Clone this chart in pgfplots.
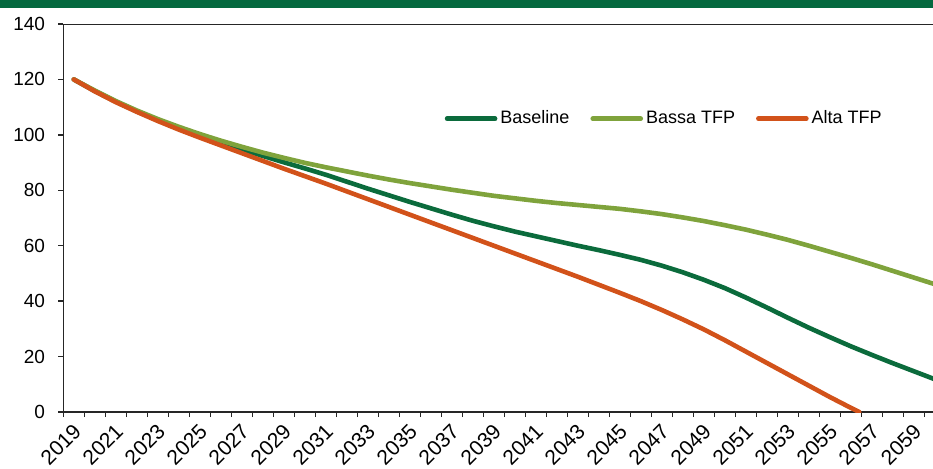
\documentclass[border=0pt]{standalone}
\usepackage{pgfplots}
\pgfplotsset{compat=1.18}
\usepackage{pgfplotstable}
\usepackage{fontspec}
\setmainfont{Liberation Sans}

\definecolor{basegreen}{HTML}{0B6B3C}
\definecolor{lowgreen}{HTML}{7FA33C}
\definecolor{altaorange}{HTML}{D2521A}
\definecolor{banner}{HTML}{05693F}

% Debt path under the three TFP scenarios
\pgfplotstableread{
year  val
2019  120
2020  115.8
2021  112.0
2022  108.5
2023  105.3
2024  102.5
2025  99.9
2026  97.3
2027  94.8
2028  92.4
2029  90.1
2030  87.9
2031  85.6
2032  83.1
2033  80.6
2034  78.2
2035  75.8
2036  73.5
2037  71.2
2038  69.0
2039  67.0
2040  65.1
2041  63.4
2042  61.7
2043  60.0
2044  58.4
2045  56.7
2046  54.9
2047  52.8
2048  50.4
2049  47.7
2050  44.7
2051  41.3
2052  37.7
2053  34.0
2054  30.4
2055  27.0
2056  23.7
2057  20.6
2058  17.6
2059  14.7
2060  11.8
}\baseline

\pgfplotstableread{
year  val
2019  120
2020  116.0
2021  112.2
2022  108.8
2023  105.7
2024  102.9
2025  100.3
2026  97.9
2027  95.7
2028  93.6
2029  91.7
2030  89.9
2031  88.3
2032  86.8
2033  85.3
2034  83.9
2035  82.6
2036  81.4
2037  80.2
2038  79.1
2039  78.0
2040  77.1
2041  76.2
2042  75.4
2043  74.7
2044  74.0
2045  73.3
2046  72.4
2047  71.4
2048  70.2
2049  68.9
2050  67.4
2051  65.8
2052  64.0
2053  62.1
2054  60.0
2055  57.8
2056  55.6
2057  53.3
2058  50.9
2059  48.5
2060  46.1
}\bassa

\pgfplotstableread{
year  val
2019  120
2020  115.7
2021  111.8
2022  108.3
2023  105.0
2024  101.9
2025  99.0
2026  96.2
2027  93.4
2028  90.6
2029  87.8
2030  85.1
2031  82.4
2032  79.6
2033  76.8
2034  74.0
2035  71.2
2036  68.4
2037  65.6
2038  62.8
2039  60.0
2040  57.2
2041  54.4
2042  51.6
2043  48.8
2044  45.9
2045  43.0
2046  40.0
2047  36.8
2048  33.4
2049  29.8
2050  25.9
2051  21.8
2052  17.7
2053  13.6
2054  9.5
2055  5.4
2056  1.5
2056.4 0
}\alta

\begin{document}
\begin{tikzpicture}
\useasboundingbox (-31.65pt,-28pt) rectangle (434.85pt,206pt);
\fill[banner] (-31.65pt,202pt) rectangle (434.85pt,206pt);
\begin{axis}[
  at={(0pt,0pt)}, anchor=south west,
  scale only axis,
  width=434.85pt, height=194pt,
  xmin=2018.5, xmax=2059.91,
  ymin=0, ymax=140,
  axis x line=bottom, axis y line=left,
  axis line style={-, black!85, line width=0.8pt},
  tick style={black!85, line width=0.7pt},
  tick align=outside,
  ytick={0,20,...,140},
  xtick={2019,2021,...,2059},
  major x tick style={draw=none},
  minor xtick={2018.5,2019.5,...,2059.5},
  minor tick length=2.6pt,
  major tick length=2.6pt,
  xticklabel style={rotate=45, anchor=east, font=\fontsize{10.5}{12}\selectfont, yshift=-5pt, xshift=1pt},
  yticklabel style={font=\fontsize{9.5}{11}\selectfont, xshift=-3pt},
  /pgf/number format/assume math mode=true,
  /pgf/number format/1000 sep={},
  clip=true,
  legend style={at={(axis cs:2036.36,105.8)}, anchor=west, draw=none, fill=none,
    legend columns=3, font=\fontsize{9}{11}\selectfont,
    /tikz/every even column/.append style={column sep=9pt},
    nodes={inner sep=1.5pt}},
  legend cell align=left,
  legend image code/.code={\draw[#1, line cap=round] (0pt,0pt) -- (24pt,0pt);},
  every axis plot/.append style={line width=2.3pt, line cap=round, line join=round},
]
\addplot[basegreen] table[x=year, y=val] {\baseline};
\addlegendentry{Baseline}
\addplot[lowgreen] table[x=year, y=val] {\bassa};
\addlegendentry{Bassa TFP}
\addplot[altaorange] table[x=year, y=val] {\alta};
\addlegendentry{Alta TFP}
\draw[black!85, line width=0.8pt] (rel axis cs:0,1) -- (rel axis cs:1,1);
\end{axis}
\end{tikzpicture}
\end{document}
